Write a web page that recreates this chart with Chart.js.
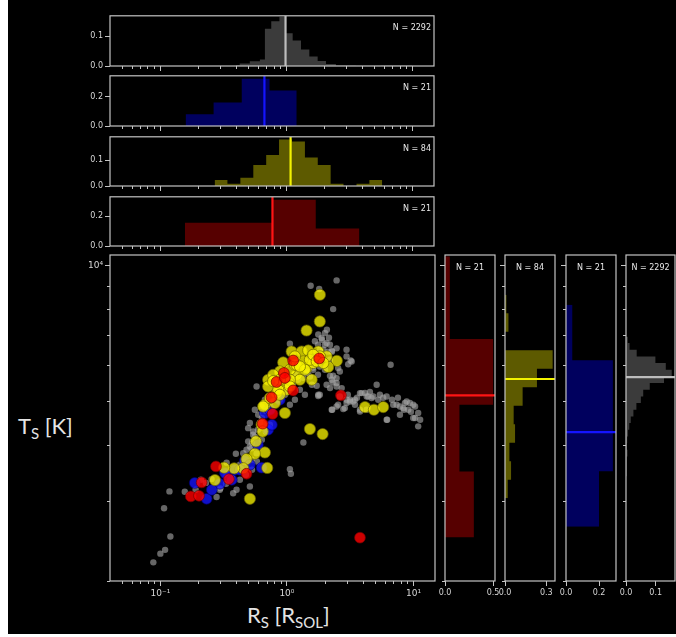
<!DOCTYPE html>
<html>
<head>
<meta charset="utf-8">
<script src="https://cdn.jsdelivr.net/npm/chart.js"></script>
<style>
  body { margin: 0; background: #fff; }
  #bg { position: absolute; left: 8px; top: 0; width: 668px; height: 634px; background: #000; }
  canvas { position: absolute; }
  .lab { position: absolute; color: #e4e4e4; font-family: Lato, "Open Sans", sans-serif; font-size: 22px; line-height: 22px; white-space: nowrap; }
  .lab sub { font-size: 15px; vertical-align: -5px; line-height: 0; }
</style>
</head>
<body>
<div id="bg"></div>
<div class="lab" style="left:18px;top:415px">T<sub>S</sub> [K]</div>
<div class="lab" style="left:247px;top:604px">R<sub>S</sub> [R<sub>SOL</sub>]</div>
<script>
// ========================
// DATA
// ========================

// log axis ticks (shared by scatter and marginal panels)
const xTickVals = [0.05, 0.06, 0.07, 0.08, 0.09, 0.1, 0.2, 0.3, 0.4, 0.5, 0.6, 0.7, 0.8, 0.9, 1, 2, 3, 4, 5, 6, 7, 8, 9, 10];
const xTickText = ['', '', '', '', '', '10⁻¹', '', '', '', '', '', '', '', '', '10⁰', '', '', '', '', '', '', '', '', '10¹'];
const yTickVals = [2000, 3000, 4000, 5000, 6000, 7000, 8000, 9000, 10000];
const yTickText = ['', '', '', '', '', '', '', '', '10⁴'];

// scatter points [R_s, T_s]
const grayPts = [
  [0.088, 2200], [0.100, 2300], [0.109, 2345], [0.120, 2510], [0.107, 2900], [0.118, 3160],
  [0.278, 3070], [0.295, 3186], [0.298, 3210], [0.376, 3130], [0.40, 3186], [0.425, 3353], [0.343, 3470],
  [0.51, 3240], [0.334, 3660], [0.254, 3365], [0.395, 3830], [0.452, 3840], [0.51, 3975], [0.425, 3620],
  [0.452, 3680], [0.526, 3714], [0.48, 3908], [0.526, 3940], [0.576, 3840], [0.494, 4080], [0.541, 4290],
  [0.51, 4480], [0.593, 4673], [0.631, 4875], [0.558, 4795], [0.67, 5046], [0.829, 5046], [0.494, 4365],
  [0.541, 4220], [0.576, 5400], [0.41, 3529], [0.441, 3600], [0.474, 3750], [0.53, 4055], [0.558, 4180],
  [0.59, 4329], [0.612, 4490], [0.634, 4600], [0.682, 4770], [0.734, 4945], [0.474, 3440], [0.53, 3529],
  [0.579, 3680], [0.634, 4114], [0.682, 4285], [0.734, 4441], [0.367, 3390], [0.33, 3285], [0.229, 3300],
  [0.19, 3186], [0.156, 3155], [0.209, 3353],
  [0.804, 5176], [0.88, 5311], [0.964, 5446], [1.056, 5588], [1.157, 5732], [1.267, 5881], [1.388, 6033],
  [1.52, 6188], [1.665, 6348], [1.824, 6513], [1.997, 6680], [1.89, 6854], [1.76, 6680], [2.11, 6450],
  [2.19, 6188], [2.0, 5881], [1.76, 5732], [1.577, 5446], [1.388, 5176], [1.267, 5311], [1.157, 5046],
  [1.056, 4919], [0.964, 5176], [0.88, 5046], [1.018, 5311], [1.115, 5446], [1.222, 5588], [1.34, 5645],
  [1.466, 5821], [1.606, 5941], [1.76, 6126], [1.93, 6250], [1.43, 5780], [1.614, 5881], [1.82, 5980],
  [1.52, 5683], [1.94, 6513], [2.06, 6740], [1.665, 6800], [1.88, 6915], [2.0, 7095], [1.77, 7040],
  [2.19, 5700], [2.47, 5635], [2.30, 5510], [2.54, 5930], [2.96, 6513], [3.19, 6165], [3.05, 6050],
  [6.6, 6035], [1.72, 5420], [1.77, 5145], [1.35, 4055], [1.056, 3540], [1.075, 3458],
  [1.54, 9030], [2.47, 9280], [2.32, 8015], [1.80, 8880], [1.056, 6715], [2.07, 7215], [2.19, 6680],
  [2.27, 6450], [2.15, 6925], [2.26, 6480], [2.47, 6560], [2.96, 6295], [3.25, 6135], [2.62, 5830],
  [2.26, 5588], [2.06, 5446], [1.82, 5176], [2.47, 5400], [2.62, 5132], [2.96, 4962], [2.47, 4875],
  [3.15, 5046],
  [2.71, 5355], [2.96, 5046], [2.54, 4919], [2.79, 4810], [2.28, 4795], [3.78, 5220], [4.27, 5130],
  [4.81, 5130], [6.14, 5130], [3.78, 4750], [6.14, 4556], [7.82, 4673], [8.57, 4962], [9.96, 4919],
  [10.9, 4715], [11.3, 4556], [10.3, 4595], [9.1, 4795], [7.82, 4875], [6.92, 4919], [3.34, 5000],
  [2.32, 5703], [1.77, 5176], [2.26, 4795], [2.87, 4835], [3.15, 5002], [3.45, 5046], [3.89, 5220],
  [4.39, 5130], [4.67, 5090], [5.27, 5046], [5.12, 5446], [6.2, 4556], [7.36, 4919], [8.84, 5002],
  [10.3, 4875], [9.96, 4595], [10.9, 4405], [3.78, 4795], [4.27, 4795], [2.19, 5355], [2.47, 5495],
  [9.38, 4962], [8.31, 4835], [4.14, 5225], [4.53, 5250], [5.43, 5176], [5.76, 5098], [6.77, 5046],
  [7.54, 5098], [8.41, 4795], [9.55, 4745], [3.45, 4919], [3.03, 5176], [3.58, 5098]
];
const bluePts = [
  [0.67, 4713], [0.711, 4329], [0.631, 3567], [0.343, 3420], [0.295, 3286], [0.187, 3300], [0.232, 3043],
  [0.388, 3529], [0.324, 3470], [0.761, 4441], [0.59, 4010], [0.466, 3695], [0.367, 3353], [0.255, 3186],
  [0.734, 4795], [0.88, 5046], [0.51, 3620], [0.425, 3529]
];
const yellowPts = [
  [1.824, 8624], [1.82, 7525], [1.43, 7185], [2.48, 6155], [2.12, 5965], [1.57, 5590], [4.14, 4860],
  [4.87, 4795], [5.77, 4860], [1.52, 4345], [1.915, 4235], [0.964, 4715], [1.09, 6455], [1.307, 6455],
  [1.474, 6490], [1.77, 6455], [0.935, 6105], [1.346, 6135], [1.193, 5730], [0.88, 5830], [0.711, 5588],
  [0.711, 5400], [0.88, 5400], [0.995, 5311], [0.829, 5220], [0.67, 4919], [0.804, 4962], [0.631, 4440],
  [2.06, 6295], [1.824, 6295], [1.431, 5932], [1.614, 6087], [1.056, 5881], [1.157, 6033], [0.779, 5730],
  [1.024, 5495], [0.854, 5311], [0.643, 4290], [0.569, 4080], [0.67, 3855], [0.558, 3830], [0.48, 3727],
  [0.451, 3556], [0.699, 3562], [0.383, 3556], [0.319, 3567], [0.27, 3349], [0.51, 3043],
  [1.193, 6033], [1.52, 6188], [1.267, 5588], [1.056, 5588], [0.88, 5588], [0.779, 5550], [1.056, 5400],
  [0.734, 5090], [0.88, 5176], [1.614, 6348], [1.157, 6295], [1.388, 5881], [1.267, 5981], [1.72, 6135],
  [1.94, 6087], [0.649, 4875]
];
const redPts = [
  [1.80, 6230], [1.12, 6165], [0.947, 5785], [0.829, 5525], [1.12, 5290], [0.757, 5105], [0.771, 4695],
  [0.643, 4465], [2.67, 5160], [0.964, 5640], [0.275, 3590], [0.48, 3458], [0.348, 3365], [0.212, 3308],
  [0.174, 3080], [0.202, 3090], [3.78, 2495]
];

// radius histograms (bin edges in R_sol, fraction per bin, median)
const grayREdges = [0.398, 0.427, 0.513, 0.617, 0.676, 0.759, 0.881, 0.982, 1.122, 1.306, 1.521, 1.770, 2.061, 2.472, 3.548, 5.623, 10.0];
const grayRFrac = [0.003, 0.008, 0.016, 0.022, 0.125, 0.15, 0.165, 0.11, 0.085, 0.055, 0.032, 0.017, 0.007, 0.002, 0.001, 0.0015];
const blueREdges = [0.159, 0.265, 0.443, 0.735, 1.208];
const blueRFrac = [0.08, 0.16, 0.32, 0.24];
const yellowREdges = [0.270, 0.341, 0.432, 0.547, 0.692, 0.875, 1.107, 1.403, 1.774, 2.244, 2.838, 3.597, 4.550, 5.754];
const yellowRFrac = [0.023, 0.009, 0.032, 0.081, 0.12, 0.18, 0.172, 0.11, 0.081, 0.009, 0, 0.009, 0.023];
const redREdges = [0.157, 0.348, 0.771, 1.710, 3.793];
const redRFrac = [0.156, 0.156, 0.31, 0.118];
const medianR = [0.985, 0.67, 1.08, 0.776];

// temperature histograms (bin edges in K, fraction per bin, median)
const redTEdges = [2498, 3499, 4919, 6880, 10500];
const redTFrac = [0.30, 0.15, 0.5, 0.05];
const yellowTEdges = [3051, 3353, 3686, 4051, 4452, 4893, 5378, 5910, 6495, 7141, 7848, 8624];
const yellowTFrac = [0.02, 0.044, 0.032, 0.073, 0.063, 0.128, 0.232, 0.346, 0, 0.025, 0.01];
const blueTEdges = [2638, 3502, 4650, 6171, 8193];
const blueTFrac = [0.2, 0.284, 0.284, 0.038];
const grayTEdges = [3411, 3651, 3777, 3908, 4045, 4183, 4329, 4480, 4634, 4795, 4962, 5132, 5311, 5495, 5683, 5881, 6087, 6295, 6513, 6740, 6970];
const grayTFrac = [0.002, 0.003, 0.005, 0.003, 0.004, 0.007, 0.011, 0.016, 0.025, 0.035, 0.05, 0.058, 0.08, 0.128, 0.154, 0.134, 0.099, 0.036, 0.012, 0.006];
const medianT = [5157, 5609, 4279, 5666];

const counts = ['N = 2292', 'N = 21', 'N = 84', 'N = 21'];

// ========================
// HELPERS
// ========================

const frameCol = '#c4c4c4';
const tickCol = '#d6d6d6';

Chart.defaults.font.family = 'DejaVu Sans';
Chart.defaults.font.size = 8;
Chart.defaults.color = tickCol;

function makeCanvas(left, top, w, h) {
  const c = document.createElement('canvas');
  c.width = w;
  c.height = h;
  c.style.left = left + 'px';
  c.style.top = top + 'px';
  c.style.width = w + 'px';
  c.style.height = h + 'px';
  document.body.appendChild(c);
  return c;
}

// box around the plot + the "N = ..." text
const frame = {
  id: 'frame',
  afterDraw(chart, args, opts) {
    const { left, top, width, height } = chart.chartArea;
    const c = chart.ctx;
    c.save();
    c.strokeStyle = frameCol;
    c.lineWidth = 1.2;
    c.strokeRect(left, top, width, height);
    if (opts.text) {
      c.fillStyle = '#e8e8e8';
      c.font = '8px "DejaVu Sans"';
      c.textBaseline = 'middle';
      if (opts.center) {
        c.textAlign = 'center';
        c.fillText(opts.text, left + width / 2, top + 13);
      } else {
        c.textAlign = 'right';
        c.fillText(opts.text, left + width - 3, top + 12);
      }
    }
    c.restore();
  }
};

const isDecade = v => Math.abs(Math.log10(v) - Math.round(Math.log10(v))) < 1e-6;

function tickGrid(isLog, isLeft) {
  return {
    drawOnChartArea: false,
    tickLength: 5,
    tickColor: frameCol,
    tickWidth: 1,
    tickBorderDash: c => (isLog && c.tick && !isDecade(c.tick.value)) ? [3, 10] : [],
    tickBorderDashOffset: isLeft ? 11 : 0
  };
}

function logX(showLabels, h) {
  return {
    type: 'logarithmic', min: 0.04, max: 14.8,
    afterBuildTicks: s => { s.ticks = xTickVals.map(v => ({ value: v })); },
    afterFit: s => { s.height = h; },
    border: { display: false },
    grid: tickGrid(true, false),
    ticks: { display: showLabels, autoSkip: false, maxRotation: 0, padding: 2, font: { size: 9 }, callback: (v, i) => xTickText[i] }
  };
}

function logY(showLabels, w) {
  return {
    type: 'logarithmic', min: 2000, max: 10565,
    afterBuildTicks: s => { s.ticks = yTickVals.map(v => ({ value: v })); },
    afterFit: s => { s.width = w; },
    border: { display: false },
    grid: tickGrid(true, true),
    ticks: { display: showLabels, autoSkip: false, padding: 2, font: { size: 9 }, callback: (v, i) => yTickText[i] }
  };
}

function linAxis(max, ticks, size, vertical) {
  return {
    type: 'linear', min: 0, max: max,
    afterBuildTicks: s => { s.ticks = ticks.map(v => ({ value: v })); },
    afterFit: s => { if (vertical) s.width = size; else s.height = size; },
    border: { display: false },
    grid: tickGrid(false, vertical),
    ticks: { autoSkip: false, maxRotation: 0, padding: 2, callback: v => v.toFixed(1) }
  };
}

function colOutline(edges, vals) {
  const pts = [{ x: edges[0], y: 0 }];
  vals.forEach((v, i) => { pts.push({ x: edges[i], y: v }, { x: edges[i + 1], y: v }); });
  pts.push({ x: edges[edges.length - 1], y: 0 });
  return pts;
}

function rowOutline(edges, vals) {
  const pts = [{ x: 0, y: edges[0] }];
  vals.forEach((v, i) => { pts.push({ x: v, y: edges[i] }, { x: v, y: edges[i + 1] }); });
  pts.push({ x: 0, y: edges[edges.length - 1] });
  return pts;
}

const toXY = arr => arr.map(p => ({ x: p[0], y: p[1] }));

function baseOptions(padding, label, center) {
  return {
    responsive: false,
    animation: false,
    events: [],
    layout: { autoPadding: false, padding: padding },
    plugins: {
      legend: { display: false },
      tooltip: { enabled: false },
      frame: { text: label, center: center }
    }
  };
}

// ========================
// TOP PANELS (radius)
// ========================

const topRows = [[15, 66], [75, 126], [136, 186], [196, 246]];
const topHists = [
  { edges: grayREdges, vals: grayRFrac, fill: '#3b3b3b', line: '#bdbdbd', max: 0.168, ticks: [0, 0.1] },
  { edges: blueREdges, vals: blueRFrac, fill: '#00005e', line: '#1414ff', max: 0.34, ticks: [0, 0.2] },
  { edges: yellowREdges, vals: yellowRFrac, fill: '#5d5a00', line: '#f2f200', max: 0.19, ticks: [0, 0.1] },
  { edges: redREdges, vals: redRFrac, fill: '#560000', line: '#ff1414', max: 0.33, ticks: [0, 0.2] }
];

topHists.forEach((h, i) => {
  const [top, bot] = topRows[i];
  const cv = makeCanvas(56, top - 6, 384, bot - top + 14);
  const opts = baseOptions({ top: 6, right: 6 }, counts[i], false);
  opts.scales = { x: logX(false, 8), y: linAxis(h.max, h.ticks, 54, true) };
  new Chart(cv, {
    type: 'line',
    data: {
      datasets: [
        { data: colOutline(h.edges, h.vals), fill: 'origin', backgroundColor: h.fill, borderColor: 'rgba(0,0,0,0)', borderWidth: 0, pointRadius: 0, order: 2 },
        { data: [{ x: medianR[i], y: 0 }, { x: medianR[i], y: h.max }], borderColor: h.line, borderWidth: 2.2, pointRadius: 0, fill: false, order: 1 }
      ]
    },
    options: opts,
    plugins: [frame]
  });
});

// ========================
// MAIN SCATTER
// ========================

const mainCv = makeCanvas(56, 245, 389, 370);
const mainOpts = baseOptions({ top: 10, right: 10 }, '', false);
mainOpts.scales = { x: logX(true, 34), y: logY(true, 54) };
new Chart(mainCv, {
  type: 'scatter',
  data: {
    datasets: [
      { data: toXY(grayPts), backgroundColor: 'rgba(165,165,165,0.62)', borderWidth: 0, pointRadius: 3.2, order: 4 },
      { data: toXY(bluePts), backgroundColor: 'rgba(20,20,255,0.78)', borderColor: 'rgba(0,0,110,0.8)', borderWidth: 0.8, pointRadius: 5.4, order: 3 },
      { data: toXY(yellowPts), backgroundColor: 'rgba(250,245,0,0.76)', borderColor: 'rgba(105,100,0,0.85)', borderWidth: 0.8, pointRadius: 5.6, order: 2 },
      { data: toXY(redPts), backgroundColor: 'rgba(255,0,0,0.8)', borderColor: 'rgba(110,0,0,0.85)', borderWidth: 0.8, pointRadius: 5.4, order: 1 }
    ]
  },
  options: mainOpts,
  plugins: [frame]
});

// ========================
// SIDE PANELS (temperature)
// ========================

const sideCols = [[445, 495, 10], [505, 555, 10], [566, 616, 10], [626, 675, 1]];
const sideHists = [
  { edges: redTEdges, vals: redTFrac, fill: '#560000', line: '#ff1414', max: 0.52, ticks: [0, 0.5], n: 'N = 21' },
  { edges: yellowTEdges, vals: yellowTFrac, fill: '#5d5a00', line: '#f2f200', max: 0.363, ticks: [0, 0.3], n: 'N = 84' },
  { edges: blueTEdges, vals: blueTFrac, fill: '#00005e', line: '#1414ff', max: 0.303, ticks: [0, 0.2], n: 'N = 21' },
  { edges: grayTEdges, vals: grayTFrac, fill: '#3b3b3b', line: '#bdbdbd', max: 0.165, ticks: [0, 0.1], n: 'N = 2292' }
];

sideHists.forEach((h, i) => {
  const [l, r, padR] = sideCols[i];
  const cv = makeCanvas(l - 12, 245, r - l + 12 + padR, 370);
  const opts = baseOptions({ top: 10, right: padR }, h.n, true);
  opts.indexAxis = 'y';
  opts.scales = { x: linAxis(h.max, h.ticks, 34, false), y: logY(false, 12) };
  new Chart(cv, {
    type: 'line',
    data: {
      datasets: [
        { data: rowOutline(h.edges, h.vals), fill: 'origin', backgroundColor: h.fill, borderColor: 'rgba(0,0,0,0)', borderWidth: 0, pointRadius: 0, order: 2 },
        { data: [{ x: 0, y: medianT[i] }, { x: h.max, y: medianT[i] }], borderColor: h.line, borderWidth: 2.2, pointRadius: 0, fill: false, order: 1 }
      ]
    },
    options: opts,
    plugins: [frame]
  });
});
</script>
</body>
</html>
